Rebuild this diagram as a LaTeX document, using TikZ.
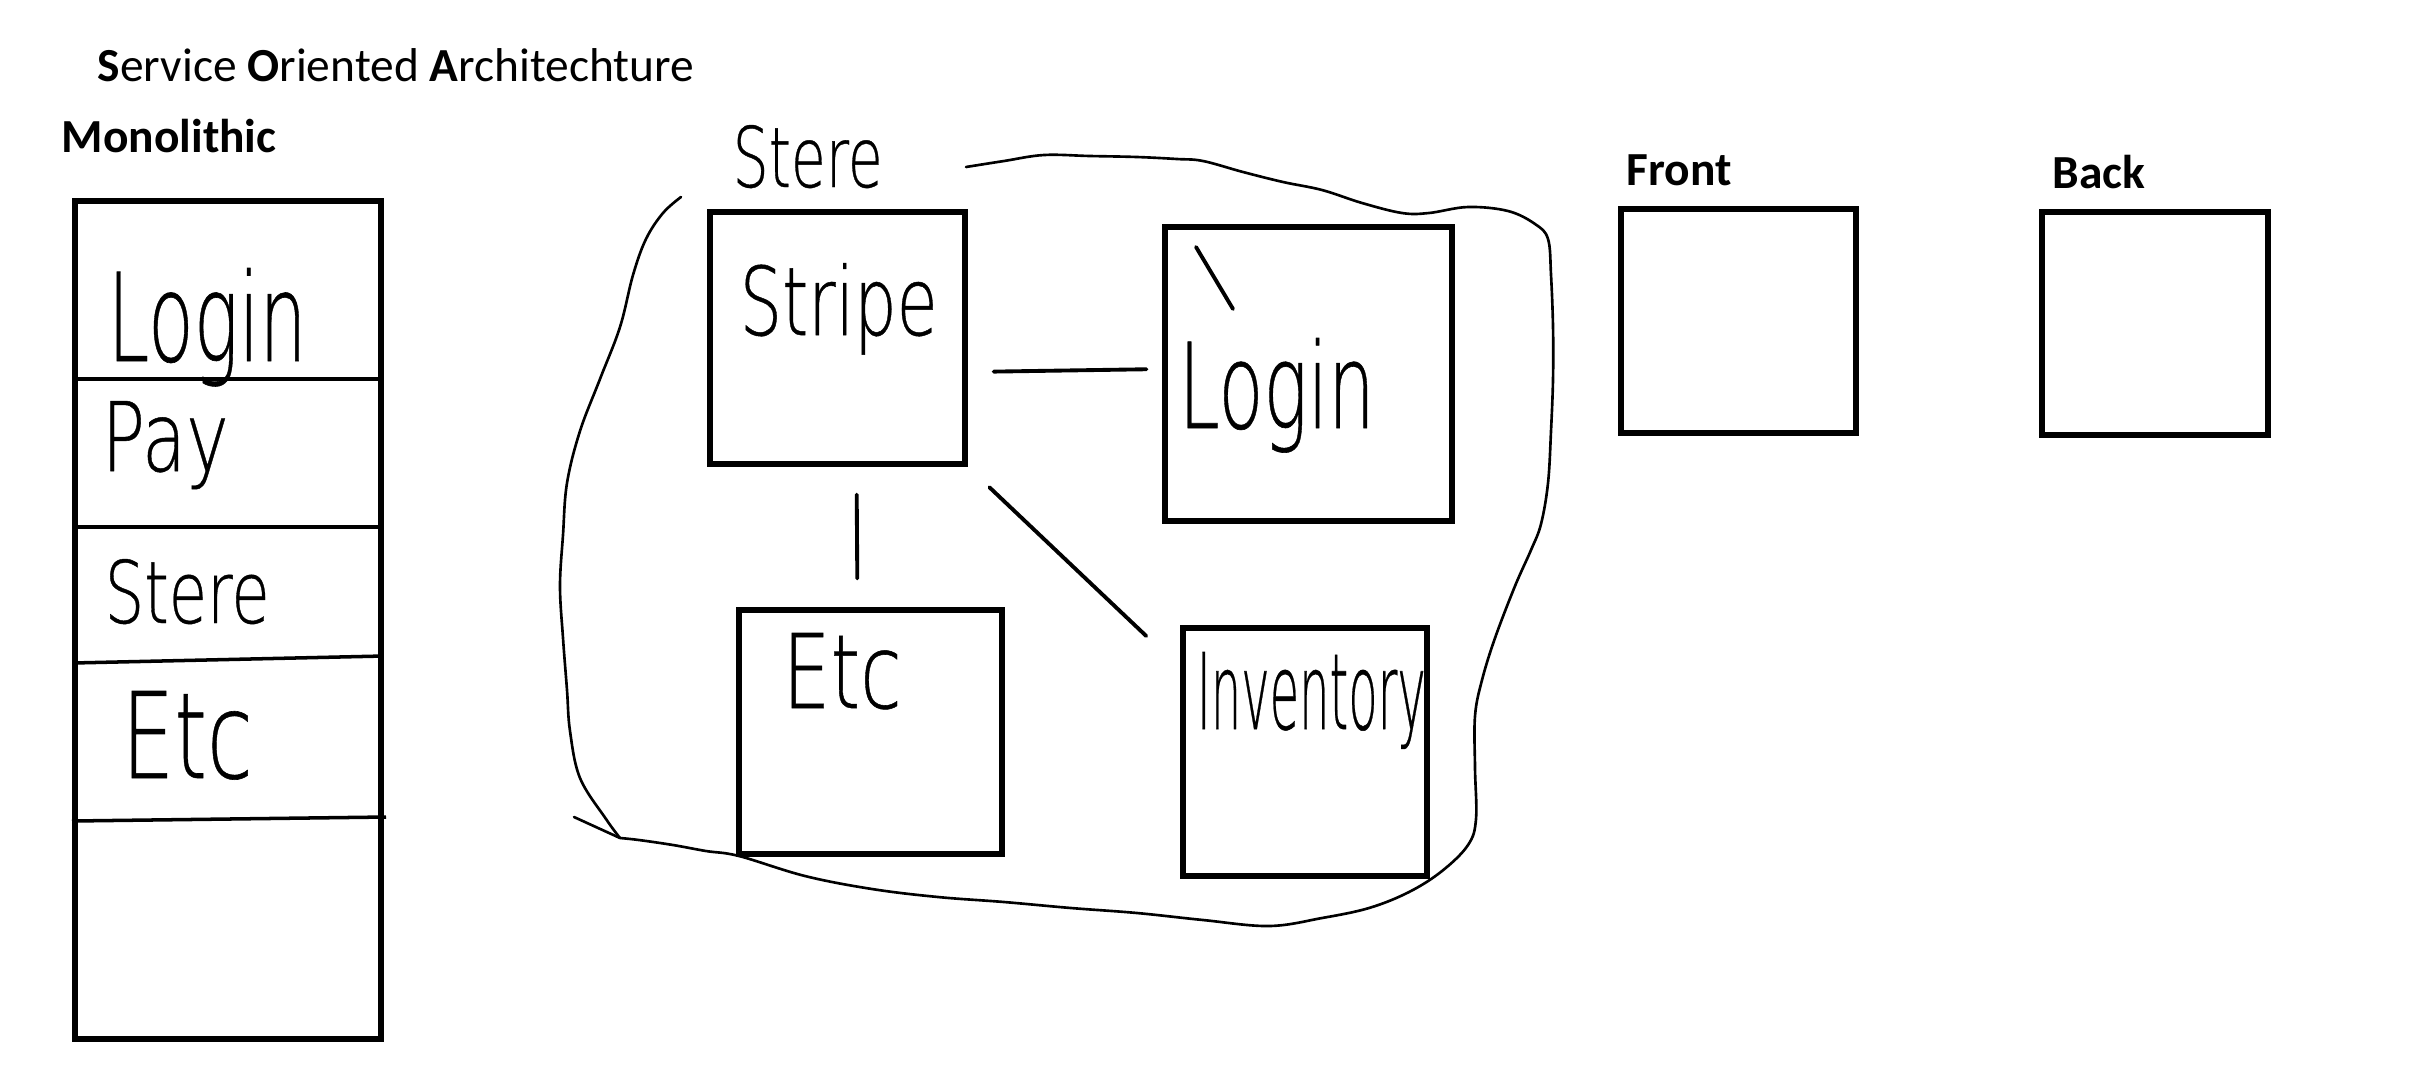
\documentclass[tikz,border=0pt]{standalone}
\usepackage{fontspec}
\setmainfont{Carlito}
\newfontfamily\handfont{DejaVu Sans ExtraLight}[FakeBold=0.5]
\usetikzlibrary{positioning}
\newcommand{\hw}[3]{\resizebox{#1}{#2}{\handfont #3}}

\begin{document}
\begin{tikzpicture}[x=0.1mm, y=-0.1mm,
    box/.style={draw, line width=1.5pt, inner sep=0pt},
    heading/.style={font=\fontsize{13.5}{16}\selectfont, inner sep=0pt, anchor=base west},
    hand/.style={inner sep=0pt, anchor=base west},
    conn/.style={line width=1.1pt, line cap=round},
    pen/.style={line width=0.75pt, line cap=round, line join=round},
    divider/.style={line width=1pt}]
    \useasboundingbox (0,0) rectangle (2409,1075);

    % Naglowki
    \node[heading] (soa) at (97,81) {\textbf{S}ervice \textbf{O}riented \textbf{A}rchitechture};
    \node[heading] (monotitle) at (61,152) {\textbf{Monolithic}};
    \node[heading] (fronttitle) at (1626,185) {\textbf{Front}};
    \node[heading] (backtitle) at (2052,188) {\textbf{Back}};

    % Monolit
    \node[box, minimum width=30.6mm, minimum height=83.8mm] (mono) at (228,620) {};
    \draw[divider] (mono.west |- 0,379) -- (mono.east |- 0,379);
    \draw[divider] (mono.west |- 0,527) -- (mono.east |- 0,527);
    \draw[divider] (mono.west |- 0,663) -- (mono.east |- 0,656);
    \draw[divider] (72,821) -- (386,817);
    \node[hand] (mlogin) at (107,361) {\hw{19.9mm}{9.3mm}{Login}};
    \node[hand] (mpay) at (101,471) {\hw{12.7mm}{7.0mm}{Pay}};
    \node[hand] (mstere) at (104,623) {\hw{16.5mm}{6.4mm}{Stere}};
    \node[hand] (metc) at (121,778) {\hw{13.1mm}{8.7mm}{Etc}};

    % Uslugi
    \node[box, minimum width=25.5mm, minimum height=25.2mm] (stripe) at (837.5,338) {};
    \node[box, minimum width=28.7mm, minimum height=29.4mm] (login) at (1308.5,374) {};
    \node[box, minimum width=26.3mm, minimum height=24.4mm] (etc) at (870.5,732) {};
    \node[box, minimum width=24.4mm, minimum height=24.8mm] (inventory) at (1305,752) {};
    \node[hand] (stripetext) at (739,335) {\hw{19.8mm}{7.2mm}{Stripe}};
    \node[hand] (logintext) at (1178,428) {\hw{19.6mm}{9.0mm}{Login}};
    \node[hand] (etctext) at (782,708) {\hw{11.9mm}{7.5mm}{Etc}};
    \node[hand] (inventorytext) at (1196,729) {\hw{22.9mm}{7.7mm}{Inventory}};
    \node[hand] (storetext) at (732,187) {\hw{15mm}{6.2mm}{Stere}};

    % Front i back
    \node[box, minimum width=23.5mm, minimum height=22.4mm] (front) at (1738.5,321) {};
    \node[box, minimum width=22.6mm, minimum height=22.3mm] (back) at (2155,323.5) {};

    % Polaczenia
    \draw[conn, shorten <=2.6mm, shorten >=1.6mm] ([yshift=-3.4mm]stripe.east) -- ([yshift=0.5mm]login.west);
    \draw[conn, shorten <=2.8mm, shorten >=2.9mm] ([xshift=1.9mm]stripe.south) -- ([xshift=-1.3mm]etc.north);
    \draw[conn, shorten <=3.0mm, shorten >=4.7mm] (stripe.south east) -- ([yshift=-4.3mm]inventory.north west);
    \draw[conn] (1196,247) -- (1233,309);

    % Chmura
    \draw[pen] plot[smooth, tension=0.6] coordinates {(966,167) (1004,161) (1044,155) (1090,156)
        (1137,157) (1177,159) (1203,161) (1243,172) (1283,182) (1322,190) (1362,203) (1402,213)
        (1429,213) (1468,207) (1508,211) (1535,224) (1548,239) (1551,275) (1553,327) (1553,379)
        (1551,431) (1548,483) (1541,524) (1531,550) (1515,586) (1495,638) (1482,680) (1475,716)
        (1475,768) (1476,819) (1468,845) (1442,871) (1409,892) (1369,908) (1322,918) (1269,926)
        (1203,920) (1137,913) (1071,908) (1004,902) (938,897) (872,889) (805,876) (739,856)
        (706,851) (673,845) (639,840) (620,838)};
    \draw[pen] plot[smooth, tension=0.6] coordinates {(620,838) (606,819) (580,778) (570,731)
        (567,690) (563,638) (560,586) (563,535) (567,483) (580,431) (600,379) (620,327)
        (633,275) (646,239) (663,213) (681,197)};
    \draw[pen] (574,817) -- (620,838);

\end{tikzpicture}
\end{document}
